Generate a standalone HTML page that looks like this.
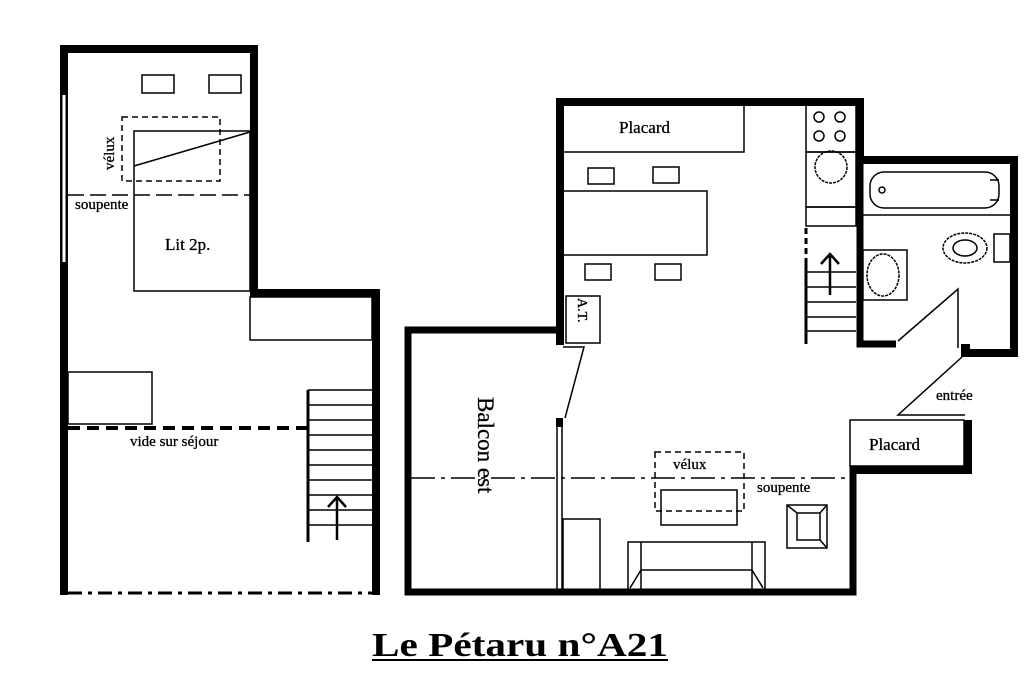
<!DOCTYPE html>
<html><head><meta charset="utf-8"><style>
html,body{margin:0;padding:0;background:#fff;width:1024px;height:675px;overflow:hidden}
text{font-family:"Liberation Serif",serif;fill:#000}
</style></head><body>
<svg width="1024" height="675" viewBox="0 0 1024 675" xmlns="http://www.w3.org/2000/svg">
<g fill="none" stroke="#000" stroke-width="1.5">
<!-- LEFT PLAN walls -->
<path d="M64 595 V49 H254 V293 H376 V595" stroke-width="8"/>
<line x1="64" y1="95" x2="64" y2="262" stroke="#fff" stroke-width="3"/>
<line x1="68" y1="593" x2="372" y2="593" stroke-width="3" stroke-dasharray="14,6,4,6"/>
<rect x="142" y="75" width="32" height="18"/>
<rect x="209" y="75" width="32" height="18"/>
<rect x="122" y="117" width="98" height="64" stroke-dasharray="6,4"/>
<rect x="134" y="131" width="116" height="160"/>
<line x1="134" y1="166" x2="250" y2="132"/>
<line x1="68" y1="195" x2="250" y2="195" stroke-dasharray="16,6"/>
<rect x="250" y="297" width="122" height="43"/>
<rect x="68" y="372" width="84" height="52"/>
<line x1="68" y1="428" x2="307" y2="428" stroke-width="4" stroke-dasharray="12,7"/>
<line x1="308" y1="390" x2="308" y2="542" stroke-width="3"/>
<path d="M308 390H372M308 405H372M308 420H372M308 435H372M308 450H372M308 465H372M308 480H372M308 495H372M308 510H372M308 525H372"/>
<path d="M337 540V497M328 507L337 497L346 507" stroke-width="2.5"/>

<!-- RIGHT PLAN walls -->
<path d="M560 345 V102 H860 V160 H1014 V353 H966" stroke-width="8"/>
<path d="M860 160 V344 H896" stroke-width="7"/>
<rect x="961" y="344" width="9" height="13" fill="#000" stroke="none"/>
<path d="M855 470 H968 V420" stroke-width="8"/>
<path d="M853 466 V592 H408 V330 H560" stroke-width="7"/>
<rect x="556" y="418" width="7" height="9" fill="#000" stroke="none"/>
<line x1="557" y1="427" x2="557" y2="590"/>
<line x1="562" y1="427" x2="562" y2="590"/>
<path d="M563 347 H584 L565 418"/>
<line x1="411" y1="478" x2="850" y2="478" stroke-dasharray="24,6,4,6"/>
<rect x="850" y="420" width="114" height="46"/>
<rect x="563" y="105" width="181" height="47"/>
<rect x="563" y="191" width="144" height="64"/>
<rect x="588" y="168" width="26" height="16"/>
<rect x="653" y="167" width="26" height="16"/>
<rect x="585" y="264" width="26" height="16"/>
<rect x="655" y="264" width="26" height="16"/>
<rect x="566" y="296" width="34" height="47"/>
<!-- kitchen -->
<rect x="806" y="105" width="50" height="47"/>
<circle cx="819" cy="117" r="5"/><circle cx="840" cy="117" r="5"/>
<circle cx="819" cy="136" r="5"/><circle cx="840" cy="136" r="5"/>
<rect x="806" y="152" width="50" height="55"/>
<circle cx="831" cy="167" r="16" stroke-dasharray="3,1"/>
<rect x="806" y="207" width="50" height="19"/>
<line x1="806" y1="228" x2="806" y2="262" stroke-width="3" stroke-dasharray="6,4"/>
<line x1="806" y1="262" x2="806" y2="344" stroke-width="3"/>
<path d="M806 272H856M806 287H856M806 302H856M806 317H856M806 331H856"/>
<path d="M830 295V254M821 264L830 254L839 264" stroke-width="2.5"/>
<!-- bathroom -->
<rect x="870" y="172" width="129" height="36" rx="14"/>
<circle cx="882" cy="190" r="3"/>
<line x1="990" y1="180" x2="999" y2="180"/><line x1="990" y1="200" x2="999" y2="200"/>
<line x1="863" y1="215" x2="1010" y2="215"/>
<ellipse cx="965" cy="248" rx="22" ry="15" stroke-dasharray="3,1"/>
<ellipse cx="965" cy="248" rx="12" ry="8"/>
<rect x="994" y="234" width="16" height="28"/>
<rect x="863" y="250" width="44" height="50"/>
<ellipse cx="883" cy="275" rx="16" ry="21" stroke-dasharray="3,1"/>
<path d="M898 341 L958 289 V348"/>
<path d="M962 357 L898 415 H965"/>
<!-- living -->
<rect x="655" y="452" width="89" height="59" stroke-dasharray="6,4"/>
<rect x="661" y="490" width="76" height="35"/>
<rect x="628" y="542" width="137" height="48"/>
<path d="M641 590V542M752 590V542M641 570H752M641 570L630 588M752 570L763 588"/>
<rect x="787" y="505" width="40" height="43"/>
<path d="M797 513H820V540H797ZM787 505L797 513M827 505L820 513M827 548L820 540"/>
<rect x="563" y="519" width="37" height="71"/>
</g>
<g font-size="15" stroke="#000" stroke-width="0.3">
<text x="75" y="209">soupente</text>
<text x="165" y="250" font-size="17">Lit 2p.</text>
<text transform="translate(114,170) rotate(-90)">vélux</text>
<text x="130" y="446">vide sur séjour</text>
<text x="619" y="133" font-size="17">Placard</text>
<text x="869" y="450" font-size="17">Placard</text>
<text x="936" y="400">entrée</text>
<text x="757" y="492">soupente</text>
<text x="673" y="469">vélux</text>
<text transform="translate(578,298) rotate(90)" font-size="14">A.T.</text>
<text transform="translate(478,397) rotate(90)" font-size="23">Balcon est</text>
</g>
<text x="372" y="656" textLength="296" lengthAdjust="spacingAndGlyphs" font-size="34" font-weight="bold">Le Pétaru n°A21</text>
<line x1="372" y1="660" x2="668" y2="660" stroke="#000" stroke-width="2"/>
</svg>
</body></html>
